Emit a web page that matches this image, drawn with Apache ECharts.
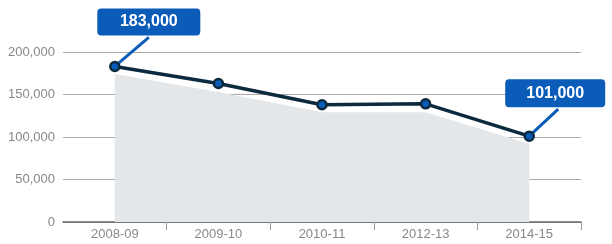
<!DOCTYPE html>
<html>
<head>
<meta charset="utf-8">
<script src="https://cdn.jsdelivr.net/npm/echarts@6/dist/echarts.min.js"></script>
<style>
  html, body { margin: 0; padding: 0; background: #fff; }
  #chart { width: 612px; height: 244px; }
</style>
</head>
<body>
<div id="chart"></div>
<script>
// values
const years = ['2008-09', '2009-10', '2010-11', '2012-13', '2014-15'];
const totals = [183000, 163000, 138000, 139000, 101000];
const shadow = [174000, 153000, 129000, 129000, 92000];
const yTicks = [0, 50000, 100000, 150000, 200000];
// callouts: [category index, value, label]
const callouts = [
  [0, 183000, '183,000'],
  [4, 101000, '101,000']
];

const fmt = v => v.toLocaleString('en-US');

// box placement relative to its point (dx to box centre, dy to box bottom)
const boxPlace = [
  { dx: 34, dy: -31, w: 103, h: 27, lx: 34 },
  { dx: 26, dy: -29, w: 100, h: 28, lx: 29 }
];

const myChart = echarts.init(document.getElementById('chart'));

myChart.setOption({
  animation: false,
  grid: { left: 63, right: 31, top: 52, bottom: 22 },
  xAxis: {
    type: 'category',
    data: years,
    boundaryGap: true,
    axisLine: { lineStyle: { color: '#666', width: 1.5 } },
    axisTick: { show: true, length: 8, interval: i => i > 0, lineStyle: { color: '#999' } },
    axisLabel: { color: '#888', fontSize: 13, fontFamily: 'Liberation Sans, Arial', margin: 6 }
  },
  yAxis: {
    type: 'value',
    min: yTicks[0],
    max: yTicks[yTicks.length - 1],
    interval: yTicks[1] - yTicks[0],
    axisLine: { show: false },
    axisTick: { show: false },
    splitLine: { lineStyle: { color: '#aaa', width: 1 } },
    axisLabel: {
      color: '#888', fontSize: 13, fontFamily: 'Liberation Sans, Arial', margin: 8,
      formatter: fmt
    }
  },
  series: [
    {
      type: 'line',
      data: shadow,
      symbol: 'none',
      lineStyle: { width: 0 },
      areaStyle: { color: '#e4e7ea', opacity: 1 },
      z: 1
    },
    {
      type: 'custom',
      data: callouts,
      z: 2,
      renderItem(params, api) {
        const pt = api.coord([api.value(0), api.value(1)]);
        const p = boxPlace[params.dataIndex];
        const cx = pt[0] + p.dx;
        const bottom = pt[1] + p.dy;
        return {
          type: 'group',
          children: [
            {
              type: 'line',
              shape: { x1: pt[0], y1: pt[1], x2: pt[0] + p.lx, y2: bottom + 2 },
              style: { stroke: '#0a5cb8', lineWidth: 3 }
            },
            {
              type: 'rect',
              shape: { x: cx - p.w / 2, y: bottom - p.h, width: p.w, height: p.h, r: 4 },
              style: { fill: '#0a5cb8' }
            },
            {
              type: 'text',
              x: cx,
              y: bottom - p.h / 2,
              style: {
                text: callouts[params.dataIndex][2],
                fill: '#fff',
                font: 'bold 16px "Liberation Sans", Arial',
                align: 'center',
                verticalAlign: 'middle'
              }
            }
          ]
        };
      }
    },
    {
      type: 'line',
      data: totals,
      symbol: 'circle',
      symbolSize: 9,
      lineStyle: { color: '#0b2a3d', width: 3.5 },
      itemStyle: { color: '#0a5cb8', borderColor: '#0b2a3d', borderWidth: 2.5 },
      z: 3
    }
  ]
});
</script>
</body>
</html>
